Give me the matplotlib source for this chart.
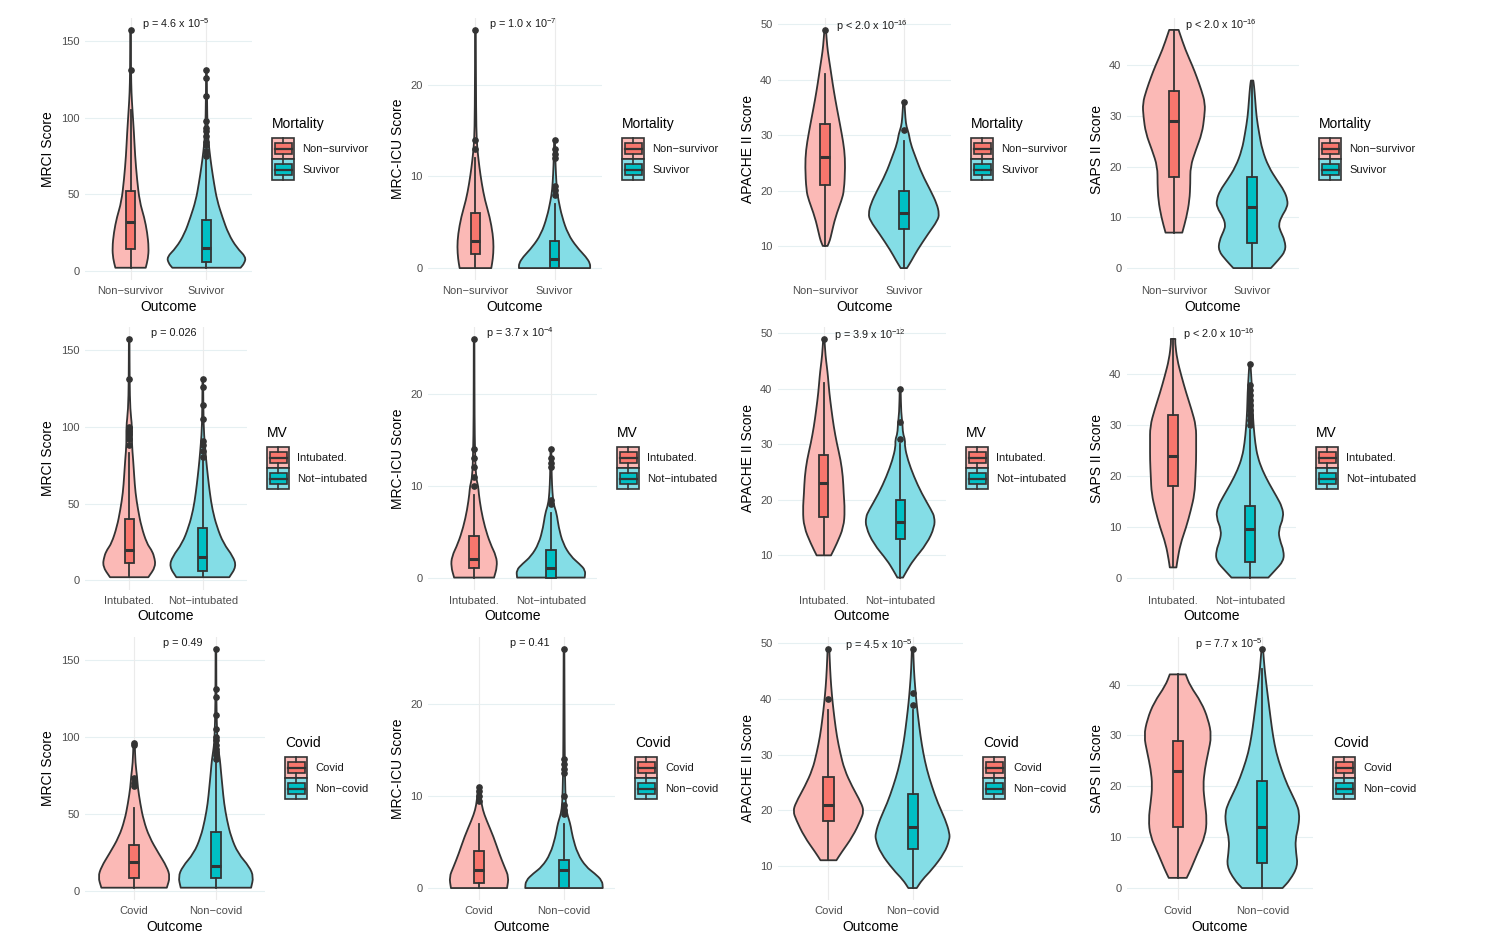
import numpy as np
import matplotlib
matplotlib.use('Agg')
import matplotlib.pyplot as plt
from matplotlib.patches import Rectangle, PathPatch
from matplotlib.path import Path

plt.rcParams['font.family'] = ['Liberation Sans', 'DejaVu Sans']
plt.rcParams['mathtext.default'] = 'regular'

# ---------------- values ----------------
score_names = ['MRCI Score', 'MRC-ICU Score', 'APACHE II Score', 'SAPS II Score']
score_ticks = [[0, 50, 100, 150], [0, 10, 20], [10, 20, 30, 40, 50], [0, 10, 20, 30, 40]]
score_lims = [(-6, 165), (-1.3, 27.3), (3.85, 51.15), (-2.35, 49.35)]
p_label_y = [161, 26.6, 49.7, 47.9]

group_titles = ['Mortality', 'MV', 'Covid']
group_levels = [['Non\u2212survivor', 'Suvivor'],
                ['Intubated.', 'Not\u2212intubated'],
                ['Covid', 'Non\u2212covid']]

p_mort = ['p = 4.6 x 10$^{-5}$', 'p = 1.0 x 10$^{-7}$', 'p < 2.0 x 10$^{-16}$', 'p < 2.0 x 10$^{-16}$']
p_mv = ['p = 0.026', 'p = 3.7 x 10$^{-4}$', 'p = 3.9 x 10$^{-12}$', 'p < 2.0 x 10$^{-16}$']
p_cov = ['p = 0.49', 'p = 0.41', 'p = 4.5 x 10$^{-5}$', 'p = 7.7 x 10$^{-5}$']

# violin outlines: score level and half width (x units), one list per group
# box stats: (whisker low, q1, median, q3, whisker high)
mort_mrci_y = [[2, 8, 15, 25, 35, 45, 60, 75, 90, 105, 116, 130, 157],
               [2, 5, 9, 15, 24, 35, 46, 57, 68, 78, 88, 100, 131]]
mort_mrci_w = [[0.20, 0.23, 0.24, 0.22, 0.18, 0.12, 0.085, 0.06, 0.045, 0.025, 0.012, 0.006, 0.004],
               [0.45, 0.50, 0.52, 0.40, 0.29, 0.21, 0.14, 0.10, 0.066, 0.04, 0.02, 0.01, 0.004]]
mort_mrci_box = [(2, 14, 32, 52, 105), (2, 6, 15, 33, 72)]
mort_mrci_out = [[131, 157], [75, 78, 82, 84, 88, 91, 93, 98, 114, 126, 131]]

mort_icu_y = [[0, 1, 2.3, 3.7, 5.6, 7.4, 9.2, 11, 12.5, 14, 17, 26],
              [0, 0.5, 1.2, 2.3, 3.7, 5.6, 7.4, 8.5, 10.3, 12, 14]]
mort_icu_w = [[0.20, 0.22, 0.23, 0.22, 0.18, 0.12, 0.08, 0.05, 0.03, 0.015, 0.008, 0.004],
              [0.45, 0.45, 0.40, 0.28, 0.17, 0.094, 0.05, 0.03, 0.017, 0.01, 0.005]]
mort_icu_box = [(0, 1.5, 3, 6, 12), (0, 0, 1, 3, 7)]
mort_icu_out = [[13, 14, 26], [8, 8.5, 9, 12, 12.5, 13, 14]]

mort_apache_y = [[10, 11, 12.2, 15.2, 18.3, 20, 24.3, 27.3, 30.3, 33.3, 36.3, 39.3, 42.3, 44.2, 46, 49],
                 [6, 7.4, 9.2, 12.2, 14.6, 15.8, 17.6, 20, 23, 26, 28.5, 30.3, 31.5, 33, 36]]
mort_apache_w = [[0.03, 0.06, 0.08, 0.13, 0.21, 0.24, 0.255, 0.245, 0.21, 0.17, 0.13, 0.095, 0.064, 0.043, 0.026, 0.01],
                 [0.04, 0.10, 0.17, 0.31, 0.43, 0.45, 0.42, 0.34, 0.23, 0.15, 0.085, 0.064, 0.034, 0.02, 0.008]]
mort_apache_box = [(10, 21, 26, 32, 41), (6, 13, 16, 20, 29)]
mort_apache_out = [[49], [31, 36]]

mort_saps_y = [[7, 10, 13.4, 16.7, 20, 23.3, 26.6, 29.9, 32.5, 35.2, 37.8, 39.8, 43.1, 46.4, 47],
               [0, 1.5, 3.4, 5.4, 7.4, 8.5, 10, 12, 13.4, 15.3, 17.3, 20, 23.3, 26.6, 29.9, 33.2, 36, 37]]
mort_saps_w = [[0.107, 0.16, 0.2, 0.21, 0.21, 0.28, 0.36, 0.39, 0.40, 0.35, 0.29, 0.24, 0.146, 0.073, 0.06],
               [0.24, 0.33, 0.43, 0.42, 0.36, 0.34, 0.37, 0.45, 0.455, 0.41, 0.32, 0.21, 0.13, 0.09, 0.056, 0.04, 0.025, 0.015]]
mort_saps_box = [(7, 18, 29, 35, 47), (0, 5, 12, 18, 37)]
mort_saps_out = [[], []]

mv_mrci_y = [[2, 9, 15.6, 20, 24, 35, 46, 57, 68, 78.5, 89, 100, 111, 130, 157],
             [2, 9, 15.6, 24, 35, 46, 57, 68, 78.5, 89, 100, 131]]
mv_mrci_w = [[0.26, 0.36, 0.34, 0.30, 0.24, 0.165, 0.12, 0.085, 0.068, 0.054, 0.036, 0.04, 0.014, 0.006, 0.004],
             [0.36, 0.455, 0.41, 0.28, 0.19, 0.13, 0.095, 0.068, 0.045, 0.027, 0.01, 0.004]]
mv_mrci_box = [(2, 11, 20, 40, 83), (2, 6, 15, 34, 78)]
mv_mrci_out = [[88, 92, 95, 97, 99, 100, 131, 157], [80, 84, 88, 91, 105, 114, 126, 131]]

mv_icu_y = [[0, 1.2, 2.3, 3.7, 5.5, 7.4, 9.2, 9.9, 11, 14, 17, 26],
            [0, 0.8, 1.5, 2.3, 3.7, 5.5, 7, 8, 9.2, 11, 14]]
mv_icu_w = [[0.26, 0.30, 0.29, 0.21, 0.14, 0.09, 0.06, 0.055, 0.022, 0.012, 0.006, 0.004],
            [0.44, 0.45, 0.37, 0.26, 0.157, 0.1, 0.075, 0.035, 0.02, 0.01, 0.005]]
mv_icu_box = [(0, 1, 2, 4.5, 9), (0, 0, 1, 3, 7)]
mv_icu_out = [[10, 11, 12, 13, 14, 26], [8, 8.5, 12, 12.5, 13, 14]]

mv_apache_y = [[10, 12.1, 15.1, 18.1, 21.2, 24.2, 27.2, 30.2, 33.2, 36.2, 39.3, 42.3, 44, 46, 49],
               [6, 7.3, 9.1, 12.1, 15.1, 16.9, 18.1, 21.2, 24.2, 27.2, 29.6, 30.8, 32, 33.8, 35.6, 40]]
mv_apache_w = [[0.094, 0.17, 0.26, 0.275, 0.26, 0.25, 0.22, 0.17, 0.13, 0.10, 0.072, 0.054, 0.04, 0.022, 0.008],
               [0.037, 0.09, 0.17, 0.35, 0.45, 0.45, 0.41, 0.28, 0.18, 0.10, 0.06, 0.065, 0.035, 0.03, 0.013, 0.006]]
mv_apache_box = [(10, 17, 23, 28, 41), (6, 13, 16, 20, 30)]
mv_apache_out = [[49], [31, 34, 40]]

mv_saps_y = [[2, 3.3, 6.6, 9.9, 13.2, 16.5, 19.8, 23.1, 26.4, 29.8, 33.1, 36.4, 39.7, 43, 46.3, 47],
             [0, 1.3, 3.3, 5.3, 7.3, 9.3, 11.9, 13.9, 15.9, 18.5, 21.2, 23.8, 26.4, 29.8, 33.1, 36.4, 39.7, 42]]
mv_saps_w = [[0.043, 0.055, 0.095, 0.17, 0.23, 0.28, 0.29, 0.30, 0.30, 0.30, 0.24, 0.17, 0.108, 0.052, 0.026, 0.03],
             [0.24, 0.32, 0.44, 0.44, 0.39, 0.37, 0.44, 0.42, 0.35, 0.25, 0.16, 0.10, 0.07, 0.048, 0.035, 0.03, 0.017, 0.008]]
mv_saps_box = [(2, 18, 24, 32, 47), (0, 3, 9.5, 14, 29)]
mv_saps_out = [[], [30, 31, 32, 33, 34, 35, 36, 37, 38, 42]]

cov_mrci_y = [[2, 9, 15.6, 24.3, 35, 46, 56.8, 67.6, 74, 83, 96],
              [2, 9, 15.6, 24.3, 35, 46, 56.8, 67.6, 78.5, 85, 93.6, 100, 120, 157]]
cov_mrci_w = [[0.40, 0.44, 0.40, 0.30, 0.185, 0.115, 0.075, 0.045, 0.037, 0.016, 0.008],
              [0.43, 0.46, 0.41, 0.27, 0.185, 0.135, 0.10, 0.08, 0.06, 0.05, 0.025, 0.016, 0.006, 0.004]]
cov_mrci_box = [(2, 8, 19, 30, 54), (2, 8, 16, 38, 83)]
cov_mrci_out = [[68, 70, 73, 95, 96], [86, 88, 90, 92, 95, 98, 100, 105, 114, 126, 131, 157]]

cov_icu_y = [[0, 1.2, 2.3, 3.7, 5.6, 7.4, 8.5, 9.6, 11],
             [0, 0.8, 1.6, 2.3, 3.7, 5.6, 6.7, 7.4, 8.1, 9.2, 12, 15, 26]]
cov_icu_w = [[0.33, 0.35, 0.30, 0.24, 0.17, 0.087, 0.044, 0.024, 0.012],
             [0.456, 0.45, 0.36, 0.26, 0.16, 0.10, 0.08, 0.06, 0.036, 0.02, 0.012, 0.008, 0.004]]
cov_icu_box = [(0, 0.5, 2, 4, 7), (0, 0, 2, 3, 7)]
cov_icu_out = [[9.5, 10, 10.5, 11], [8, 8.5, 9, 10, 12.5, 13, 13.5, 14, 26]]

cov_apache_y = [[11, 12.3, 15.3, 18.3, 19.8, 21.3, 24.3, 27.3, 30.3, 33.3, 36.3, 39.3, 42.3, 45.3, 49],
                [6, 7.5, 9.3, 12.3, 14.7, 15.9, 18.3, 21.3, 24.3, 27.3, 30.3, 33.3, 36.3, 39.3, 42.3, 45.3, 49]]
cov_apache_w = [[0.095, 0.15, 0.29, 0.385, 0.42, 0.39, 0.28, 0.19, 0.14, 0.10, 0.073, 0.05, 0.032, 0.02, 0.01],
                [0.05, 0.115, 0.23, 0.38, 0.44, 0.44, 0.39, 0.30, 0.23, 0.17, 0.127, 0.095, 0.07, 0.047, 0.03, 0.016, 0.008]]
cov_apache_box = [(11, 18, 21, 26, 38), (6, 13, 17, 23, 38)]
cov_apache_out = [[40, 49], [39, 41, 49]]

cov_saps_y = [[2, 3.6, 6.9, 10.2, 13.5, 16.8, 20.1, 23.4, 26.6, 29.9, 33.2, 36.5, 39.8, 42],
              [0, 1.6, 4.3, 6.9, 9.5, 12.2, 14.8, 16.8, 20.1, 23.4, 26.6, 29.9, 33.2, 36.5, 39.8, 43.1, 46.4, 47]]
cov_saps_w = [[0.106, 0.153, 0.235, 0.325, 0.345, 0.32, 0.30, 0.32, 0.36, 0.40, 0.36, 0.28, 0.145, 0.094],
              [0.24, 0.33, 0.42, 0.40, 0.39, 0.43, 0.44, 0.40, 0.30, 0.225, 0.165, 0.127, 0.10, 0.075, 0.05, 0.027, 0.012, 0.008]]
cov_saps_box = [(2, 12, 23, 29, 42), (0, 5, 12, 21, 43)]
cov_saps_out = [[], [47]]

panel_rows = [
    [(mort_mrci_y, mort_mrci_w, mort_mrci_box, mort_mrci_out),
     (mort_icu_y, mort_icu_w, mort_icu_box, mort_icu_out),
     (mort_apache_y, mort_apache_w, mort_apache_box, mort_apache_out),
     (mort_saps_y, mort_saps_w, mort_saps_box, mort_saps_out)],
    [(mv_mrci_y, mv_mrci_w, mv_mrci_box, mv_mrci_out),
     (mv_icu_y, mv_icu_w, mv_icu_box, mv_icu_out),
     (mv_apache_y, mv_apache_w, mv_apache_box, mv_apache_out),
     (mv_saps_y, mv_saps_w, mv_saps_box, mv_saps_out)],
    [(cov_mrci_y, cov_mrci_w, cov_mrci_box, cov_mrci_out),
     (cov_icu_y, cov_icu_w, cov_icu_box, cov_icu_out),
     (cov_apache_y, cov_apache_w, cov_apache_box, cov_apache_out),
     (cov_saps_y, cov_saps_w, cov_saps_box, cov_saps_out)],
]
p_rows = [p_mort, p_mv, p_cov]

# ---------------- layout (pixels) ----------------
W, H = 1495, 947
axes_left = [85, 428, 778, 1127]
axes_right = [[252, 602, 951, 1299], [247, 597, 946, 1296], [265, 615, 963, 1313]]
row_top = [18, 327, 637]
row_bottom = [280, 589.5, 900]
legend_title_y = [124, 433, 743]

violin_fill = ['#FBB9B6', '#84DDE6']
box_fill = ['#F8766D', '#00BFC4']
line_col = '#333333'
grid_h = '#E6F0F2'
grid_v = '#EBEBEB'
tick_col = '#4D4D4D'


def smooth_side(pts):
    # quadratic bezier through mid points: rounded outline, same end points
    verts = [pts[0], (pts[0] + pts[1]) / 2]
    codes = [Path.LINETO, Path.LINETO]
    for i in range(1, len(pts) - 1):
        verts += [pts[i], (pts[i] + pts[i + 1]) / 2]
        codes += [Path.CURVE3, Path.CURVE3]
    verts.append(pts[-1])
    codes.append(Path.LINETO)
    return verts, codes


def violin_path(xc, ys, ws):
    left = np.column_stack([xc - ws, ys])
    right = np.column_stack([xc + ws, ys])[::-1]
    v1, c1 = smooth_side(left)
    v2, c2 = smooth_side(right)
    verts = v1 + v2 + [left[0]]
    codes = [Path.MOVETO] + c1[1:] + c2 + [Path.CLOSEPOLY]
    return Path(np.array(verts), codes)


fig = plt.figure(figsize=(W / 100, H / 100), dpi=100)
fig.patch.set_facecolor('white')

overlay = fig.add_axes([0, 0, 1, 1])
overlay.set_xlim(0, W)
overlay.set_ylim(H, 0)
overlay.axis('off')

for r in range(3):
    for c in range(4):
        vy, vw, vbox, vout = panel_rows[r][c]
        left, right = axes_left[c], axes_right[r][c]
        top, bottom = row_top[r], row_bottom[r]
        ax = fig.add_axes([left / W, 1 - bottom / H, (right - left) / W, (bottom - top) / H])
        ax.set_xlim(0.4, 2.6)
        ax.set_ylim(*score_lims[c])
        for s in ax.spines.values():
            s.set_visible(False)

        for t in score_ticks[c]:
            ax.axhline(t, color=grid_h, lw=0.8, zorder=0)
        for xpos in (1, 2):
            ax.axvline(xpos, color=grid_v, lw=0.8, zorder=0)

        for g in range(2):
            xc = g + 1
            ys = np.array(vy[g], dtype=float)
            ws = np.array(vw[g], dtype=float)
            ax.add_patch(PathPatch(violin_path(xc, ys, ws), facecolor=violin_fill[g],
                                   edgecolor=line_col, lw=1.3, joinstyle='round', zorder=2))
            lo, q1, med, q3, hi = vbox[g]
            stats = [dict(whislo=lo, q1=q1, med=med, q3=q3, whishi=hi, fliers=vout[g])]
            ax.bxp(stats, positions=[xc], widths=0.12, patch_artist=True, showcaps=False,
                   manage_ticks=False, zorder=3,
                   boxprops=dict(facecolor=box_fill[g], edgecolor=line_col, lw=1.3),
                   medianprops=dict(color=line_col, lw=2.2),
                   whiskerprops=dict(color=line_col, lw=1.3),
                   flierprops=dict(marker='o', markerfacecolor=line_col,
                                   markeredgecolor=line_col, markersize=3.8))

        ax.text(1.6, p_label_y[c], p_rows[r][c], ha='center', va='center',
                fontsize=7.8, color='#1A1A1A', zorder=5)

        ax.set_yticks(score_ticks[c])
        ax.set_xticks([1, 2])
        ax.set_xticklabels(group_levels[r])
        ax.tick_params(length=0, labelsize=8, labelcolor=tick_col)
        ax.tick_params(axis='y', pad=4)
        ax.tick_params(axis='x', pad=4.5)
        ax.set_ylabel(score_names[c], fontsize=10, labelpad=4)
        ax.set_xlabel('Outcome', fontsize=10, labelpad=2.5)
        ax.set_facecolor('none')

        # legend drawn by hand, like ggplot's violin+boxplot key
        lx = right + 20
        ty = legend_title_y[r]
        overlay.text(lx, ty, group_titles[r], fontsize=10, va='center', ha='left')
        key_w, key_h = 22, 21
        for g in range(2):
            ky = ty + 14 + g * key_h
            overlay.add_patch(Rectangle((lx, ky), key_w, key_h, facecolor=violin_fill[g],
                                        edgecolor=line_col, lw=1.2))
            overlay.add_patch(Rectangle((lx + 2.5, ky + 5), key_w - 5, key_h - 10,
                                        facecolor=box_fill[g], edgecolor=line_col, lw=1.2))
            overlay.plot([lx + 2.5, lx + key_w - 2.5], [ky + key_h / 2] * 2, color=line_col, lw=1.6)
            overlay.plot([lx + key_w / 2] * 2, [ky, ky + 5], color=line_col, lw=1.2)
            overlay.plot([lx + key_w / 2] * 2, [ky + key_h - 5, ky + key_h], color=line_col, lw=1.2)
            overlay.text(lx + key_w + 8, ky + key_h / 2, group_levels[r][g], fontsize=8,
                         va='center', ha='left', color='#1A1A1A')

fig.savefig('out.png', dpi=100, facecolor='white')
